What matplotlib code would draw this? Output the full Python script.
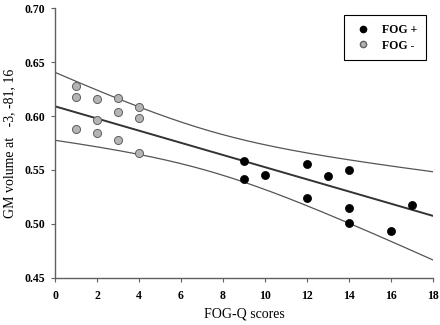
import numpy as np
import matplotlib
matplotlib.use("Agg")
import matplotlib.pyplot as plt
from matplotlib.lines import Line2D

# FOG - (grey)
fog_neg_x = [1, 1, 1, 2, 2, 2, 3, 3, 3, 4, 4, 4]
fog_neg_y = [0.628, 0.618, 0.588, 0.616, 0.596, 0.584, 0.617, 0.604, 0.578, 0.608, 0.598, 0.566]
# FOG + (black)
fog_pos_x = [9, 9, 10, 12, 12, 13, 14, 14, 14, 16, 17]
fog_pos_y = [0.558, 0.542, 0.545, 0.556, 0.524, 0.544, 0.550, 0.515, 0.501, 0.493, 0.518]

# regression line and confidence band
fit_intercept = 0.609
fit_slope = -0.00564
band_scale = 0.0897

x_ticks = [0, 2, 4, 6, 8, 10, 12, 14, 16, 18]
y_ticks = [0.45, 0.50, 0.55, 0.60, 0.65, 0.70]

plt.rcParams['font.family'] = ['Liberation Serif', 'DejaVu Serif']

fig = plt.figure(figsize=(4.4, 3.25), dpi=100)
ax = fig.add_axes([0.125, 0.145, 0.859, 0.830])

xs = np.array(fog_neg_x + fog_pos_x, dtype=float)
n = len(xs)
xm = xs.mean()
sxx = np.sum((xs - xm) ** 2)
xx = np.linspace(0, 18, 200)
yy = fit_intercept + fit_slope * xx
hw = band_scale * np.sqrt(1.0 / n + (xx - xm) ** 2 / sxx)

ax.plot(xx, yy, color='#333333', lw=1.4, zorder=2)
ax.plot(xx, yy + hw, color='#555555', lw=0.9, zorder=2)
ax.plot(xx, yy - hw, color='#555555', lw=0.9, zorder=2)

ax.scatter(fog_pos_x, fog_pos_y, s=34, c='black', edgecolors='black', linewidths=0.5, zorder=3)
ax.scatter(fog_neg_x, fog_neg_y, s=34, c='#b4b4b4', edgecolors='#606060', linewidths=0.7, zorder=3)

ax.set_xlim(0, 18)
ax.set_ylim(0.45, 0.70)
ax.set_xticks(x_ticks)
ax.set_yticks(y_ticks)
ax.set_xticklabels([str(v) for v in x_ticks], fontweight='bold', fontsize=8.5)
ax.set_yticklabels([f"{v:.2f}" for v in y_ticks], fontweight='bold', fontsize=8.5)
ax.tick_params(axis='y', direction='out', length=3, width=0.8, color='#606060', pad=4)
ax.tick_params(axis='x', direction='out', length=3, width=0.8, color='#606060', pad=6)

for side in ['top', 'right']:
    ax.spines[side].set_visible(False)
for side in ['left', 'bottom']:
    ax.spines[side].set_color('#606060')
    ax.spines[side].set_linewidth(1.0)

ax.set_xlabel('FOG-Q scores', fontsize=10, labelpad=4)
ax.set_ylabel('GM volume at   -3, -81, 16', fontsize=10, labelpad=6)

handles = [
    Line2D([], [], marker='o', linestyle='none', markersize=4.5, markerfacecolor='black', markeredgecolor='black'),
    Line2D([], [], marker='o', linestyle='none', markersize=4.5, markerfacecolor='#b4b4b4', markeredgecolor='#606060'),
]
leg = ax.legend(handles, ['FOG +', 'FOG -'], loc='upper right', bbox_to_anchor=(0.981, 0.974),
                borderaxespad=0,
                fancybox=False, edgecolor='black', framealpha=1, prop={'weight': 'bold', 'size': 8.5},
                handletextpad=0.8, borderpad=0.75, labelspacing=0.3, handlelength=1.6)
leg.get_frame().set_linewidth(0.8)

fig.savefig('out.png', dpi=100)
